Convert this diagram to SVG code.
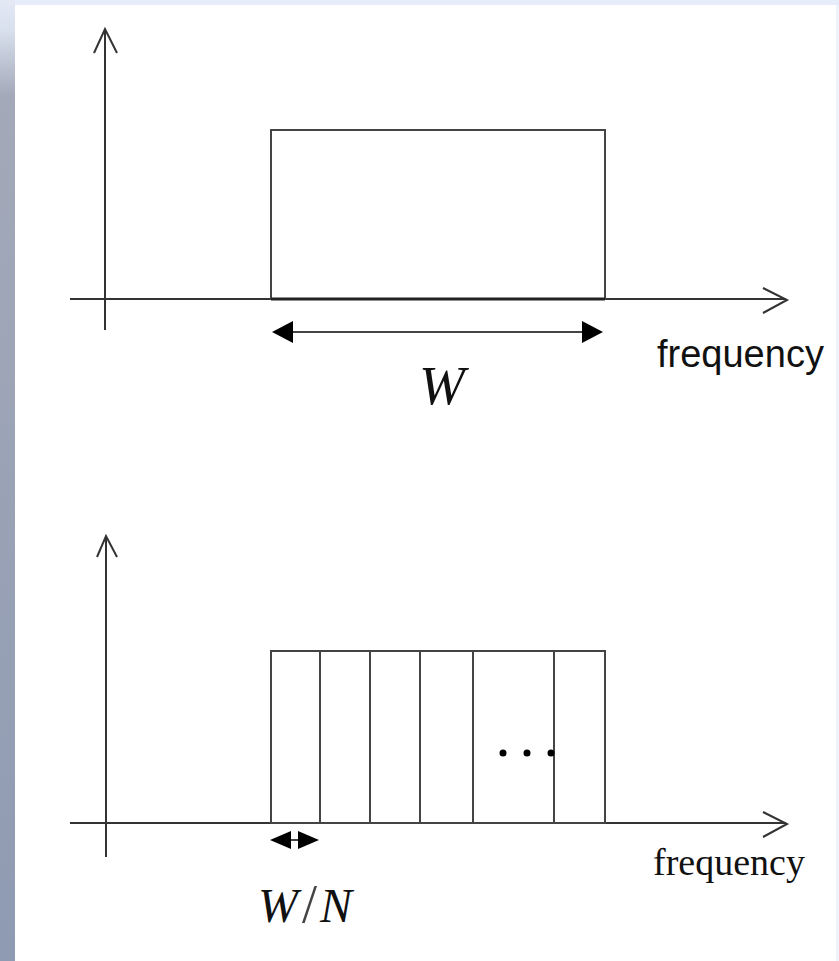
<svg xmlns="http://www.w3.org/2000/svg" width="839" height="961" viewBox="0 0 839 961">
<defs>
<linearGradient id="side" x1="0" y1="0" x2="0" y2="1">
<stop offset="0" stop-color="#e3e9f5"/>
<stop offset="0.03" stop-color="#d9e0ee"/>
<stop offset="0.1" stop-color="#a3a9b8"/>
<stop offset="1" stop-color="#8f9bb3"/>
</linearGradient>
<style>
.ax{stroke:#333;stroke-width:2;fill:none}
.ln{stroke:#444;stroke-width:2;fill:none}
.hd{fill:#000;stroke:none}
.sans{font-family:"Liberation Sans",Arial,sans-serif;fill:#111}
.serif{font-family:"Liberation Serif","Times New Roman",serif;fill:#111}
</style>
</defs>
<rect x="0" y="0" width="839" height="961" fill="#ffffff"/>
<rect x="0" y="0" width="839" height="5" fill="#e6ecfa"/>
<rect x="0" y="0" width="15" height="961" fill="url(#side)"/>
<rect x="836" y="5" width="3" height="956" fill="#eef2fb"/>

<g id="top-axes">
<line class="ax" x1="105" y1="30" x2="105" y2="330"/>
<polyline class="ax" points="94,53 105,29 117,53"/>
<line class="ax" x1="70" y1="299" x2="786" y2="299"/>
<polyline class="ax" points="763,288 787,300 763,313"/>
</g>
<g id="top-band">
<rect class="ln" x="271" y="130" width="334" height="169"/>
<line x1="271" y1="299" x2="605" y2="299" stroke="#222" stroke-width="3"/>
</g>
<g id="connectors">
<line class="ln" x1="285" y1="332" x2="590" y2="332"/>
<polygon class="hd" points="272,332 293,321 293,343"/>
<polygon class="hd" points="603,332 582,321 582,343"/>
<line class="ln" x1="280" y1="840" x2="310" y2="840"/>
<polygon class="hd" points="270,840 291,831 291,849"/>
<polygon class="hd" points="319,840 298,831 298,849"/>
</g>
<g id="top-labels">
<text class="serif" x="442" y="404" font-size="55" font-style="italic" text-anchor="middle">W</text>
<text class="sans" x="657" y="367" font-size="38">frequency</text>
</g>

<g id="bottom-axes">
<line class="ax" x1="106" y1="537" x2="106" y2="857"/>
<polyline class="ax" points="97,557 106,536 117,557"/>
<line class="ax" x1="70" y1="823" x2="786" y2="823"/>
<polyline class="ax" points="763,812 787,824 763,837"/>
</g>
<g id="bottom-band">
<rect class="ln" x="271" y="651" width="334" height="172"/>
<line class="ln" x1="320" y1="651" x2="320" y2="823"/>
<line class="ln" x1="370" y1="651" x2="370" y2="823"/>
<line class="ln" x1="420" y1="651" x2="420" y2="823"/>
<line class="ln" x1="473" y1="651" x2="473" y2="823"/>
<line class="ln" x1="554" y1="651" x2="554" y2="823"/>
<circle cx="503" cy="753" r="3.5" fill="#000"/>
<circle cx="527" cy="753" r="3.5" fill="#000"/>
<circle cx="551" cy="753" r="3.5" fill="#000"/>
</g>
<g id="bottom-labels">
<text class="serif" y="922" font-size="48" font-style="italic"><tspan x="258">W</tspan><tspan x="302" font-style="normal" font-size="54" fill="#444">/</tspan><tspan x="320">N</tspan></text>
<text class="serif" x="653" y="875" font-size="38">frequency</text>
</g>
</svg>
